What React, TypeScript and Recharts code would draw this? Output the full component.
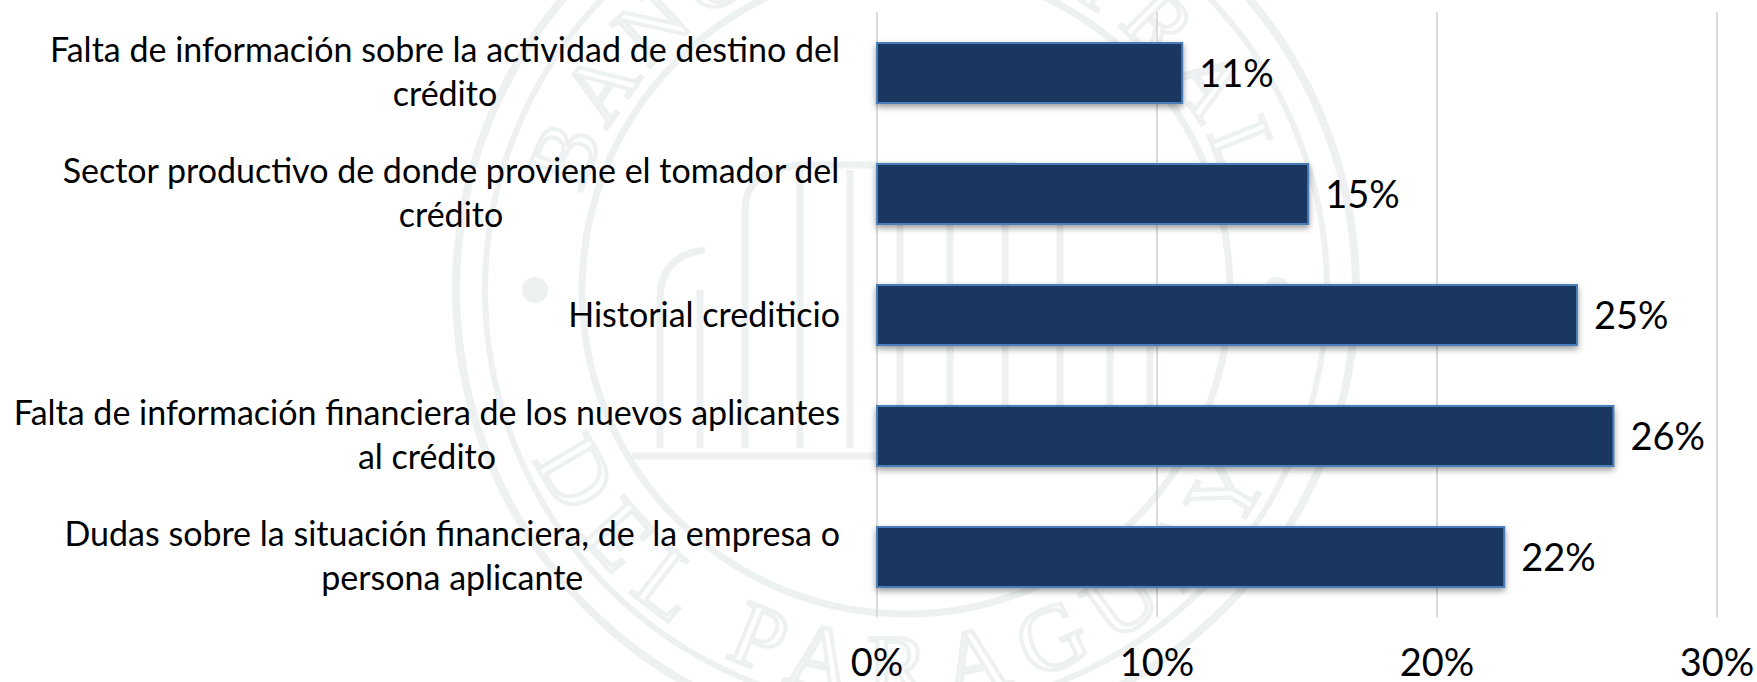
import { BarChart, Bar, XAxis, YAxis, CartesianGrid, LabelList } from 'recharts'

const categories = [
  ['Falta de información sobre la actividad de destino del', 'crédito'],
  ['Sector productivo de donde proviene el tomador del', 'crédito'],
  ['Historial crediticio'],
  ['Falta de información financiera de los nuevos aplicantes', 'al crédito'],
  ['Dudas sobre la situación financiera, de  la empresa o', 'persona aplicante'],
]
const values = [10.9, 15.4, 25.0, 26.3, 22.4]
const xTicks = [0, 10, 20, 30]

const data = categories.map((lines, i) => ({ name: lines.join(' '), value: values[i] }))

const FONT = 'Lato, sans-serif'
const FONT_SIZE = 34
const NUM_SIZE = 38
const LABEL_RIGHT = 840

const canvas = document.createElement('canvas').getContext('2d')
function textWidth(s: string) {
  canvas.font = `${FONT_SIZE}px Lato`
  return canvas.measureText(s).width
}

function CategoryTick({ y, index }: any) {
  const lines = categories[index]
  const center = LABEL_RIGHT - textWidth(lines[0]) / 2
  if (lines.length === 1) {
    return <text x={LABEL_RIGHT} y={y + 12} textAnchor="end" fontFamily={FONT} fontSize={FONT_SIZE} fill="#000" style={{ whiteSpace: 'pre' }}>{lines[0]}</text>
  }
  return (
    <g>
      {lines.map((l, i) => (
        <text key={i} x={center} y={y - 11 + i * 44.5} textAnchor="middle" fontFamily={FONT} fontSize={FONT_SIZE} fill="#000" style={{ whiteSpace: 'pre' }}>{l}</text>
      ))}
    </g>
  )
}

// faint seal behind the chart
function Seal() {
  const c = '#edf1f1'
  const cx = 906
  const cy = 290
  return (
    <svg width={1757} height={682} style={{ position: 'absolute', left: 0, top: 0 }}>
      <defs>
        <path id="sealTop" d={`M ${cx - 338} ${cy} A 338 338 0 0 1 ${cx + 338} ${cy}`} />
        <path id="sealBottom" d={`M ${cx - 408} ${cy} A 408 408 0 0 0 ${cx + 408} ${cy}`} />
      </defs>
      <g fill="none" stroke={c}>
        <circle cx={cx} cy={cy} r={450} strokeWidth={8} />
        <circle cx={cx} cy={cy} r={421} strokeWidth={6} />
        <circle cx={cx} cy={cy} r={324} strokeWidth={7} />
      </g>
      <circle cx={535} cy={290} r={13} fill={c} />
      <circle cx={1277} cy={290} r={13} fill={c} />
      <text fontFamily="Liberation Serif" fontSize={88} fill="none" stroke={c} strokeWidth={4} letterSpacing={10}>
        <textPath href="#sealTop" startOffset="50%" textAnchor="middle">BANCO CENTRAL</textPath>
      </text>
      <text fontFamily="Liberation Serif" fontSize={92} fill="none" stroke={c} strokeWidth={4} letterSpacing={20}>
        <textPath href="#sealBottom" startOffset="50%" textAnchor="middle">DEL PARAGUAY</textPath>
      </text>
      <g fill="none" stroke={c} strokeWidth={7}>
        <path d="M 632 456 H 1180" />
        <path d="M 660 448 V 300 Q 660 255 705 250 M 700 448 V 290 M 745 448 V 210 Q 745 170 800 165 H 1010 Q 1060 170 1060 210 V 448" />
        <path d="M 800 448 V 170 M 850 448 V 170 M 900 448 V 170 M 950 448 V 170 M 1005 448 V 170 M 1110 448 V 290 M 1150 448 V 300" />
      </g>
    </svg>
  )
}

export default function App() {
  return (
    <div style={{ position: 'absolute', left: 0, top: 0, width: 1757, height: 682, background: '#fff', overflow: 'hidden' }}>
      <Seal />
      <div style={{ position: 'absolute', left: 0, top: 0 }}>
        <BarChart width={1757} height={682} data={data} layout="vertical" margin={{ top: 12, right: 40, bottom: 0, left: 0 }} barCategoryGap="25%">
          <CartesianGrid horizontal={false} stroke="#d2d2d2" strokeWidth={1.6} />
          <XAxis
            type="number"
            domain={[0, 30]}
            ticks={xTicks}
            height={65}
            axisLine={false}
            tickLine={false}
            tickMargin={26}
            interval={0}
            tickFormatter={(v: number) => `${v}%`}
            tick={{ fontFamily: FONT, fontSize: NUM_SIZE, fill: '#000' }}
          />
          <YAxis type="category" dataKey="name" width={877} axisLine={false} tickLine={false} interval={0} tick={<CategoryTick />} />
          <Bar
            dataKey="value"
            fill="#19375f"
            stroke="#4a7ebb"
            strokeWidth={2}
            barSize={60}
            isAnimationActive={false}
            style={{ filter: 'drop-shadow(0 3px 3px rgba(0,0,0,0.4))' }}
          >
            <LabelList
              dataKey="value"
              position="right"
              offset={17}
              dy={1}
              formatter={(v: number) => `${Math.round(v)}%`}
              style={{ fontFamily: FONT, fontSize: NUM_SIZE, fill: '#000' }}
            />
          </Bar>
        </BarChart>
      </div>
    </div>
  )
}
